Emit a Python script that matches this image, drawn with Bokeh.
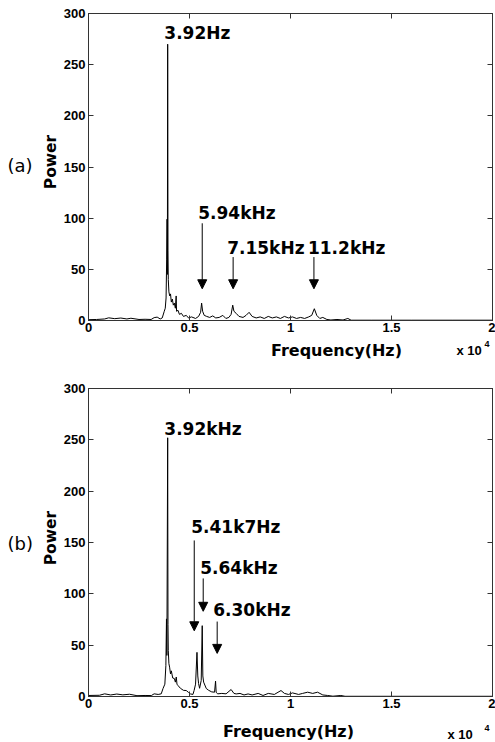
import math
from bokeh.plotting import figure
from bokeh.models import (Range1d, LinearAxis, FixedTicker, Label, Arrow, NormalHead,
                          CustomLabelingPolicy)
from bokeh.layouts import column, row
from bokeh.embed import file_html
from bokeh.resources import INLINE

# ---------------- data ----------------
freq_a = [0, 400, 800, 1000, 1300, 1600, 1900, 2100, 2500, 2800, 3100, 3250, 3400, 3550,
          3650, 3750, 3800, 3840, 3870, 3890, 3905, 3920, 3935, 3950, 3980, 4020, 4060, 4100,
          4150, 4200, 4250, 4300, 4340, 4360, 4430, 4500, 4600, 4700, 4840, 4950, 5100, 5300,
          5450, 5550, 5600, 5650, 5730, 5850, 6000, 6150, 6300, 6470, 6650, 6800, 6950, 7060,
          7140, 7200, 7310, 7450, 7650, 7800, 7950, 8100, 8300, 8500, 8700, 8900, 9100, 9300,
          9500, 9700, 9900, 10100, 10300, 10500, 10700, 10900, 11050, 11180, 11300, 11450,
          11600, 11800, 12000, 12300, 12600, 12840, 13000, 14000, 16000, 18000, 20000]
power_a = [0.8, 1.0, 1.5, 2.6, 1.8, 2.4, 1.5, 2.2, 1.0, 1.2, 1.0, 2.8, 3.3, 1.5,
           2.5, 9, 12, 22, 60, 99, 45, 270, 68, 40, 28, 24, 26, 18,
           21, 15, 17, 12, 24, 9, 10, 6, 7, 4, 5, 2.5, 3.5, 2,
           4, 8, 17, 9, 5, 4, 3, 4.5, 2.5, 3, 5, 2, 3, 6,
           15, 9, 7, 4, 3, 5, 8, 4, 2.5, 3.5, 2, 4, 2.5, 3.5,
           2, 4, 2.5, 3.5, 2, 3, 2, 3.5, 5, 11.5, 5, 2,
           3, 1, 0.5, 1, 0.5, 2, 0.3, 0.3, 0.3, 0.3, 0.3]

freq_b = [0, 540, 800, 1100, 1400, 1700, 2030, 2400, 2800, 3110, 3250, 3450, 3600, 3690,
          3780, 3830, 3860, 3880, 3920, 3935, 3950, 3980, 4015, 4060, 4100, 4170, 4250, 4300,
          4345, 4380, 4430, 4550, 4700, 4840, 4950, 5050, 5170, 5230, 5300, 5370, 5410, 5450,
          5500, 5580, 5630, 5660, 5700, 5830, 5950, 6100, 6240, 6290, 6320, 6400, 6600, 6810,
          7060, 7200, 7310, 7500, 7700, 7900, 8100, 8400, 8640, 8900, 9200, 9530, 9700, 9900,
          10100, 10400, 10600, 10850, 11100, 11340, 11600, 11840, 12100, 12490, 12700, 14000,
          16000, 20000]
power_b = [1, 1.2, 2.6, 1.5, 2.4, 1.6, 2.2, 0.8, 1, 0.9, 2.6, 2, 2.6, 7.8,
           12, 30, 75.6, 40, 252, 70, 45, 32, 28.6, 22, 25, 18, 17.5, 14,
           19, 12, 10.7, 8, 6, 5.8, 4, 2.5, 2, 6, 12, 43, 20, 12.6,
           8, 15.6, 69, 20, 14, 7.8, 6, 4.5, 4.2, 15, 4, 2.6, 3, 2.6,
           6.8, 3, 2.5, 3, 1.5, 2.5, 1.5, 3, 1, 3, 2, 5.8, 3, 2,
           3.5, 2, 3, 4.2, 3, 4.2, 1.5, 1, 0.3, 1, 0.2, 0.2,
           0.2, 0.2]

x_ticks = [0, 5000, 10000, 15000, 20000]
x_tick_labels = ["0", "0.5", "1", "1.5", "2"]
y_ticks = [0, 50, 100, 150, 200, 250, 300]

texts_a = ["3.92Hz", "5.94kHz", "7.15kHz", "11.2kHz"]
texts_b = ["3.92kHz", "5.41k7Hz", "5.64kHz", "6.30kHz"]

# ---------------- layout / style constants ----------------
text_x_a = [3753, 5432, 6864, 10864]
text_y_a = [281, 105, 71, 71]
arrow_x_a = [5630, 7160, 11160]
arrow_y0_a = [95, 62, 62]
arrow_y1_a = [31, 31, 31]

text_x_b = [3753, 5086, 5531, 6173]
text_y_b = [261, 165, 125, 84]
arrow_x_b = [5235, 5679, 6370]
arrow_y0_b = [152, 115, 73]
arrow_y1_b = [64, 83, 42]

TICK_FONT = "Liberation Sans"
LABEL_FONT = "DejaVu Sans"
W = 495
LEFT_W = 60          # width of the strip that carries "(a)" / "Power"
FRAME_LEFT = 87      # x of the plot box inside the window
FRAME_RIGHT_GAP = 3
NO_LABELS = "return new Set()"
AX_COLOR = "#333333"


def strip(width, height):
    """A bare figure used only to carry text labels (pixel coordinates, y downwards)."""
    s = figure(width=width, height=height, x_range=Range1d(0, width),
               y_range=Range1d(height, 0), x_axis_location=None, y_axis_location=None,
               min_border=0, output_backend="svg", toolbar_location=None)
    s.outline_line_color = None
    s.grid.visible = False
    return s


def box_axis(ticks):
    return LinearAxis(ticker=FixedTicker(ticks=ticks), major_tick_in=5, major_tick_out=0,
                      minor_tick_line_color=None, major_label_text_font_size="0px",
                      major_label_standoff=0, axis_line_color=AX_COLOR,
                      major_tick_line_color=AX_COLOR,
                      major_label_policy=CustomLabelingPolicy(code=NO_LABELS))


def main_panel(freq, power, texts, tx, ty, ax, ay0, ay1, height, border_top, border_bottom):
    p = figure(width=W - LEFT_W, height=height, x_range=Range1d(0, 20000),
               y_range=Range1d(0, 300), output_backend="svg", toolbar_location=None,
               min_border_left=FRAME_LEFT - LEFT_W, min_border_right=FRAME_RIGHT_GAP,
               min_border_top=border_top, min_border_bottom=border_bottom)
    p.xgrid.visible = False
    p.ygrid.visible = False
    p.outline_line_color = AX_COLOR
    p.outline_line_width = 1

    p.line(freq, power, line_color="black", line_width=1)

    for axis in p.xaxis:
        axis.ticker = FixedTicker(ticks=x_ticks)
        axis.major_label_overrides = {t: l for t, l in zip(x_ticks, x_tick_labels)}
        axis.major_label_standoff = 2
    for axis in p.yaxis:
        axis.ticker = FixedTicker(ticks=y_ticks)
        axis.major_label_standoff = 3
    for axis in list(p.xaxis) + list(p.yaxis):
        axis.major_tick_in = 5
        axis.major_tick_out = 0
        axis.minor_tick_line_color = None
        axis.axis_line_color = AX_COLOR
        axis.major_tick_line_color = AX_COLOR
        axis.major_label_text_font = TICK_FONT
        axis.major_label_text_font_style = "bold"
        axis.major_label_text_font_size = "13px"
        axis.major_label_text_color = "black"

    p.add_layout(box_axis(x_ticks), "above")
    p.add_layout(box_axis(y_ticks), "right")

    for t, x, y in zip(texts, tx, ty):
        p.add_layout(Label(x=x, y=y, text=t, text_align="left", text_baseline="middle",
                           text_font=LABEL_FONT, text_font_style="bold",
                           text_font_size="17px", text_color="black"))
    for x, y0, y1 in zip(ax, ay0, ay1):
        p.add_layout(Arrow(x_start=x, y_start=y0, x_end=x, y_end=y1, line_color="black",
                           line_width=1,
                           end=NormalHead(size=9, fill_color="black", line_color="black")))
    return p


def left_panel(tag, height, tag_y, power_y):
    s = strip(LEFT_W, height)
    s.add_layout(Label(x=7, y=tag_y, text=tag, text_align="left", text_baseline="middle",
                       text_font=LABEL_FONT, text_font_size="18px", text_color="black"))
    s.add_layout(Label(x=50, y=power_y, text="Power", angle=math.pi / 2,
                       text_align="center", text_baseline="middle", text_font=LABEL_FONT,
                       text_font_style="bold", text_font_size="15.5px", text_color="black"))
    return s


def bottom_panel(height, flab_x, flab_base, x10_x, x10_y, sup_x, sup_y):
    s = strip(W, height)
    s.add_layout(Label(x=flab_x, y=flab_base, text="Frequency(Hz)", text_align="center",
                       text_baseline="alphabetic", text_font=LABEL_FONT,
                       text_font_style="bold", text_font_size="16px", text_color="black"))
    s.add_layout(Label(x=x10_x, y=x10_y, text="x 10", text_align="left",
                       text_baseline="middle", text_font=TICK_FONT, text_font_style="bold",
                       text_font_size="13px", text_color="black"))
    s.add_layout(Label(x=sup_x, y=sup_y, text="4", text_align="left",
                       text_baseline="middle", text_font=TICK_FONT, text_font_style="bold",
                       text_font_size="9px", text_color="black"))
    return s


# panel (a): window rows 0..337 plot, 337..371 x-title strip
main_a = main_panel(freq_a, power_a, texts_a, text_x_a, text_y_a,
                    arrow_x_a, arrow_y0_a, arrow_y1_a, 337, 13, 17)
left_a = left_panel("(a)", 337, 167, 163)
bot_a = bottom_panel(34, 336, 13, 456, 13, 484, 6)

# panel (b): window rows 371..713 plot, 713..742 x-title strip
main_b = main_panel(freq_b, power_b, texts_b, text_x_b, text_y_b,
                    arrow_x_b, arrow_y0_b, arrow_y1_b, 342, 17, 17)
left_b = left_panel("(b)", 342, 172, 166)
bot_b = bottom_panel(29, 288, 18, 447, 21, 484, 14)

layout = column(row(left_a, main_a), bot_a, row(left_b, main_b), bot_b)
open("out.html", "w").write(file_html(layout, INLINE))
